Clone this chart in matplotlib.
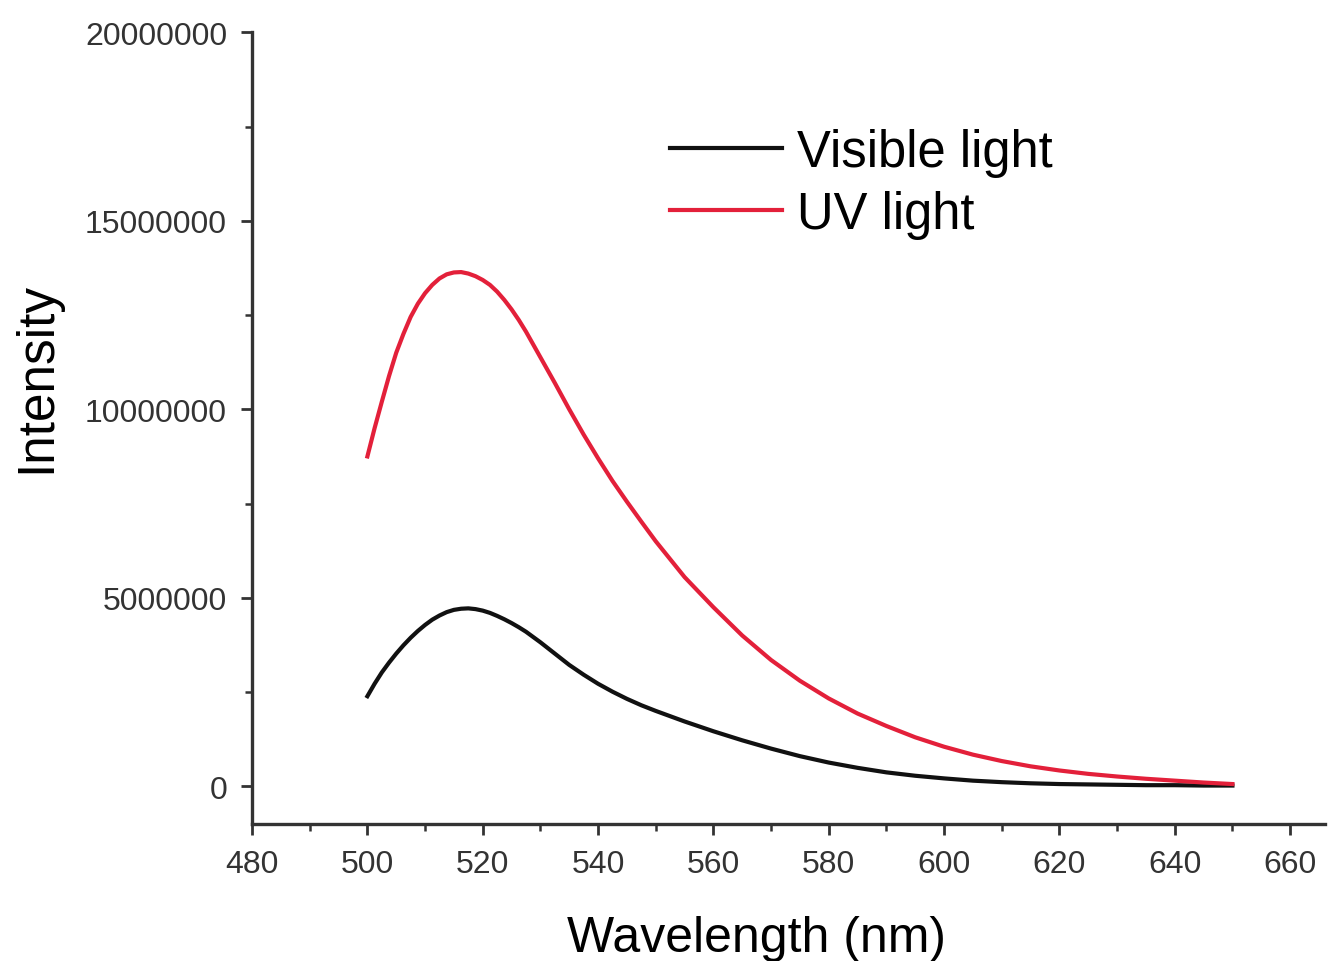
import numpy as np
import matplotlib
matplotlib.use("Agg")
import matplotlib.pyplot as plt
from matplotlib.ticker import MultipleLocator

plt.rcParams['font.family'] = ['Liberation Sans', 'DejaVu Sans']

# wavelength (nm)
wl = [500, 501.25, 502.5, 503.75, 505, 506.25, 507.5, 508.75, 510, 511.25,
      512.5, 513.75, 515, 516.25, 517.5, 518.75, 520, 521.25, 522.5, 523.75,
      525, 526.25, 527.5, 528.75, 530,
      532.5, 535, 537.5, 540, 542.5, 545, 547.5, 550,
      555, 560, 565, 570, 575, 580, 585, 590, 595, 600, 605, 610, 615, 620,
      625, 630, 635, 640, 645, 650]

# intensity in millions
visible = [2.39, 2.72, 3.02, 3.28, 3.52, 3.74, 3.94, 4.12, 4.28, 4.42, 4.53,
           4.62, 4.68, 4.71, 4.72, 4.7, 4.66, 4.6, 4.52, 4.43, 4.33, 4.22,
           4.1, 3.96, 3.82,
           3.52, 3.22, 2.96, 2.72, 2.51, 2.32, 2.15, 2.0,
           1.72, 1.46, 1.22, 1.0, 0.8, 0.63, 0.49, 0.37, 0.28, 0.21, 0.15,
           0.11, 0.08, 0.06, 0.05, 0.04, 0.03, 0.03, 0.02, 0.02]
uv = [8.75, 9.5, 10.2, 10.88, 11.5, 12.0, 12.45, 12.8, 13.08, 13.3, 13.47,
      13.58, 13.63, 13.64, 13.6, 13.53, 13.43, 13.3, 13.12, 12.9, 12.65,
      12.37, 12.06, 11.72, 11.38,
      10.7, 10.0, 9.33, 8.7, 8.1, 7.55, 7.02, 6.5,
      5.55, 4.75, 4.0, 3.35, 2.8, 2.33, 1.93, 1.6, 1.3, 1.05, 0.84, 0.67,
      0.53, 0.42, 0.33, 0.26, 0.2, 0.15, 0.1, 0.06]

fig = plt.figure(figsize=(13.28, 9.62), dpi=100)
ax = fig.add_axes([0.1898, 0.1424, 0.8077, 0.823])

ax.plot(wl, np.array(visible) * 1e6, color='#111111', lw=3,
        solid_joinstyle='round', label='Visible light')
ax.plot(wl, np.array(uv) * 1e6, color='#e3203a', lw=3,
        solid_joinstyle='round', label='UV light')

ax.set_xlim(480, 666)
ax.set_ylim(-1e6, 20e6)
ax.xaxis.set_major_locator(MultipleLocator(20))
ax.xaxis.set_minor_locator(MultipleLocator(10))
ax.yaxis.set_major_locator(MultipleLocator(5e6))
ax.yaxis.set_minor_locator(MultipleLocator(2.5e6))
ax.yaxis.set_major_formatter(plt.FuncFormatter(lambda v, p: '%d' % v))

ax.spines['top'].set_visible(False)
ax.spines['right'].set_visible(False)
ax.spines['left'].set_bounds(-1e6, 20e6)
for s in ['left', 'bottom']:
    ax.spines[s].set_linewidth(2.4)
    ax.spines[s].set_color('#333333')

ax.tick_params(which='major', direction='out', length=8, width=2, colors='#333333',
               labelsize=23, labelcolor='#333333', pad=10)
ax.tick_params(which='minor', direction='out', length=5, width=1.8, colors='#333333')

ax.set_xlabel('Wavelength (nm)', fontsize=36)
ax.xaxis.set_label_coords(0.47, -0.115)
ax.set_ylabel('Intensity', fontsize=37)
ax.yaxis.set_label_coords(-0.178, 0.565)

ax.legend(loc='upper left', bbox_to_anchor=(0.39, 0.879), frameon=False,
          fontsize=36.5, handlelength=2.2, handletextpad=0.3, labelspacing=0.25,
          borderpad=0, borderaxespad=0)

fig.savefig('out.png', dpi=100)
